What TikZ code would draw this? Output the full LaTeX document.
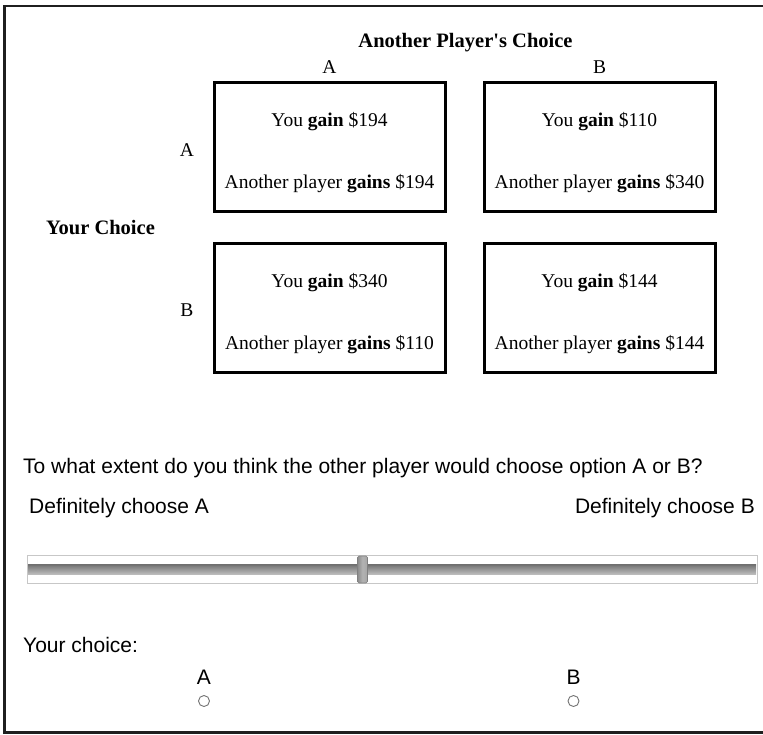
\documentclass[tikz,border=0pt]{standalone}
\usepackage{fontspec}
\setmainfont{Liberation Serif}[Ligatures=TeXOff]
\setsansfont{Liberation Sans}
\begin{document}
\begin{tikzpicture}[x=1pt,y=-1pt,
  paybox/.style={draw=black,line width=3pt,minimum width=231pt,minimum height=129pt,inner sep=0pt},
  serif/.style={font=\fontsize{19.5}{23}\selectfont\rmfamily,inner sep=0pt,anchor=base},
  hdr/.style={font=\fontsize{20.5}{24}\selectfont\rmfamily\bfseries,inner sep=0pt,anchor=base},
  sans/.style={font=\fontsize{21}{25}\selectfont\sffamily,inner sep=0pt},
  radio/.style={draw=black!55,line width=0.9pt,fill=white},
  frameline/.style={draw=black!88,line width=2.3pt}]
\useasboundingbox (0,0) rectangle (763,734);
\fill[white] (0,0) rectangle (763,734);
% frame
\draw[frameline] (763,6) -- (4.5,6) -- (4.5,732.5) -- (763,732.5);
% headers
\node[hdr] (title) at (465.5,47) {Another Player's Choice};
\node[serif] (colA) at (329.5,73) {A};
\node[serif] (colB) at (599.5,73) {B};
\node[hdr] (rowtitle) at (100.5,234) {Your Choice};
\node[serif] (rowA) at (187,156) {A};
\node[serif] (rowB) at (187,316) {B};
% boxes
\node[paybox] (b1) at (329.5,147) {};
\node[paybox] (b2) at (599.5,147) {};
\node[paybox] (b3) at (329.5,308) {};
\node[paybox] (b4) at (599.5,308) {};
\path (b1.center) ++(0,-21) node[serif] (b1a) {You \textbf{gain} \$194};
\path (b1.center) ++(0,41) node[serif] (b1b) {Another player \textbf{gains} \$194};
\path (b2.center) ++(0,-21) node[serif] (b2a) {You \textbf{gain} \$110};
\path (b2.center) ++(0,41) node[serif] (b2b) {Another player \textbf{gains} \$340};
\path (b3.center) ++(0,-21) node[serif] (b3a) {You \textbf{gain} \$340};
\path (b3.center) ++(0,41) node[serif] (b3b) {Another player \textbf{gains} \$110};
\path (b4.center) ++(0,-21) node[serif] (b4a) {You \textbf{gain} \$144};
\path (b4.center) ++(0,41) node[serif] (b4b) {Another player \textbf{gains} \$144};
% question
\node[sans,anchor=base west] (q) at (23,473) {To what extent do you think the other player would choose option A or B?};
\node[sans,anchor=base west] (defA) at (29,513) {Definitely choose A};
\node[sans,anchor=base east] (defB) at (755,513) {Definitely choose B};
% slider
\draw[draw=black!22,fill=white,line width=1pt] (27,555) rectangle (757,583);
\shade[top color=black!55,bottom color=black!25] (28,564.5) rectangle (756,574.5);
\draw[black!55,line width=0.8pt] (28,565) -- (756,565);
\draw[draw=black!50,left color=black!45,right color=black!35,middle color=black!30,rounded corners=1.5pt,line width=0.6pt] (357.5,556) rectangle (367.5,583);
% your choice
\node[sans,anchor=base west] (yc) at (23,652) {Your choice:};
\node[sans,anchor=base] (rA) at (204,684) {A};
\node[sans,anchor=base] (rB) at (573.5,684) {B};
\draw[radio] (204,701) circle (5.5);
\draw[radio] (573.5,701) circle (5.5);
\end{tikzpicture}
\end{document}
